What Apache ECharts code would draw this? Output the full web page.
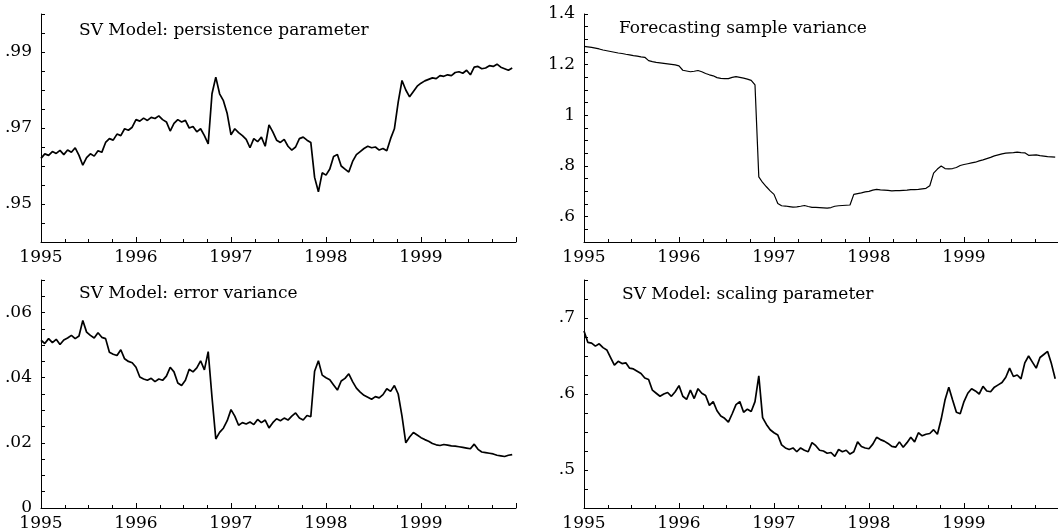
<!DOCTYPE html>
<html>
<head>
<meta charset="utf-8">
<script src="https://cdn.jsdelivr.net/npm/echarts@6.0.0/dist/echarts.min.js"></script>
<style>
  html, body { margin: 0; padding: 0; background: #fff; }
  #chart { width: 1058px; height: 531px; }
</style>
</head>
<body>
<div id="chart"></div>
<script>
// samples every 0.04 year, starting 1995.00
const startYear = 1995
const stepYear = 0.04

const persistence = [
  0.9620, 0.9632, 0.9628, 0.9638, 0.9633, 0.9641, 0.9630, 0.9642, 0.9636, 0.9648,
  0.9628, 0.9602, 0.9622, 0.9632, 0.9626, 0.9640, 0.9636, 0.9662, 0.9672, 0.9668,
  0.9684, 0.9680, 0.9698, 0.9694, 0.9702, 0.9722, 0.9718, 0.9726, 0.9720, 0.9728,
  0.9725, 0.9732, 0.9722, 0.9716, 0.9692, 0.9712, 0.9722, 0.9716, 0.9720, 0.9700,
  0.9704, 0.9690, 0.9698, 0.9680, 0.9658, 0.9790, 0.9834, 0.9790, 0.9772, 0.9738,
  0.9682, 0.9698, 0.9688, 0.9680, 0.9670, 0.9648, 0.9672, 0.9664, 0.9676, 0.9652,
  0.9708, 0.9690, 0.9668, 0.9662, 0.9670, 0.9652, 0.9642, 0.9650, 0.9672, 0.9676,
  0.9668, 0.9662, 0.9570, 0.9532, 0.9582, 0.9576, 0.9592, 0.9625, 0.9630, 0.9600,
  0.9592, 0.9584, 0.9612, 0.9630, 0.9638, 0.9646, 0.9652, 0.9648, 0.9650, 0.9642,
  0.9646, 0.9640, 0.9672, 0.9698, 0.9768, 0.9825, 0.9800, 0.9782, 0.9796, 0.9810,
  0.9818, 0.9824, 0.9828, 0.9832, 0.9830, 0.9838, 0.9836, 0.9840, 0.9838, 0.9846,
  0.9848, 0.9844, 0.9852, 0.9840, 0.9860, 0.9862, 0.9856, 0.9858, 0.9864, 0.9862,
  0.9868, 0.9860, 0.9856, 0.9852, 0.9858
]

const forecastVar = [
  1.272, 1.270, 1.268, 1.265, 1.262, 1.258, 1.255, 1.252, 1.249, 1.246,
  1.244, 1.241, 1.239, 1.236, 1.234, 1.231, 1.229, 1.216, 1.212, 1.209,
  1.207, 1.205, 1.203, 1.201, 1.199, 1.195, 1.178, 1.175, 1.172, 1.174,
  1.177, 1.172, 1.165, 1.160, 1.156, 1.149, 1.146, 1.145, 1.145, 1.150,
  1.153, 1.150, 1.147, 1.143, 1.138, 1.120, 0.757, 0.735, 0.718, 0.702,
  0.688, 0.652, 0.643, 0.642, 0.640, 0.638, 0.639, 0.641, 0.644, 0.640,
  0.637, 0.637, 0.636, 0.635, 0.634, 0.636, 0.641, 0.643, 0.644, 0.645,
  0.646, 0.688, 0.691, 0.694, 0.698, 0.700, 0.705, 0.708, 0.706, 0.705,
  0.704, 0.702, 0.703, 0.703, 0.704, 0.705, 0.707, 0.707, 0.708, 0.710,
  0.712, 0.722, 0.772, 0.788, 0.800, 0.790, 0.789, 0.790, 0.794, 0.802,
  0.806, 0.809, 0.812, 0.815, 0.820, 0.824, 0.829, 0.834, 0.840, 0.844,
  0.848, 0.851, 0.852, 0.853, 0.855, 0.853, 0.852, 0.842, 0.843, 0.844,
  0.841, 0.839, 0.837, 0.836, 0.835
]

const errorVar = [
  0.0515, 0.0505, 0.0520, 0.0508, 0.0518, 0.0502, 0.0516, 0.0522, 0.0530, 0.0520,
  0.0528, 0.0576, 0.0540, 0.0530, 0.0522, 0.0538, 0.0524, 0.0520, 0.0478, 0.0472,
  0.0468, 0.0486, 0.0458, 0.0450, 0.0446, 0.0432, 0.0402, 0.0396, 0.0392, 0.0398,
  0.0388, 0.0396, 0.0392, 0.0405, 0.0432, 0.0418, 0.0384, 0.0376, 0.0392, 0.0426,
  0.0418, 0.0430, 0.0452, 0.0424, 0.0480, 0.0340, 0.0212, 0.0232, 0.0245, 0.0268,
  0.0302, 0.0282, 0.0254, 0.0262, 0.0258, 0.0264, 0.0256, 0.0272, 0.0262, 0.0270,
  0.0246, 0.0262, 0.0274, 0.0268, 0.0276, 0.0270, 0.0282, 0.0292, 0.0276, 0.0270,
  0.0284, 0.0280, 0.0420, 0.0452, 0.0408, 0.0400, 0.0394, 0.0378, 0.0362, 0.0390,
  0.0398, 0.0412, 0.0388, 0.0368, 0.0356, 0.0346, 0.0340, 0.0334, 0.0342, 0.0338,
  0.0348, 0.0366, 0.0358, 0.0376, 0.0350, 0.0282, 0.0200, 0.0218, 0.0232, 0.0224,
  0.0216, 0.0210, 0.0205, 0.0198, 0.0194, 0.0192, 0.0195, 0.0193, 0.0191, 0.0190,
  0.0188, 0.0186, 0.0184, 0.0182, 0.0196, 0.0180, 0.0172, 0.0170, 0.0168, 0.0166,
  0.0162, 0.0160, 0.0158, 0.0162, 0.0164
]

const scaling = [
  0.683, 0.668, 0.667, 0.663, 0.666, 0.661, 0.658, 0.648, 0.638, 0.643,
  0.640, 0.641, 0.634, 0.633, 0.630, 0.627, 0.621, 0.619, 0.605, 0.601,
  0.597, 0.600, 0.602, 0.597, 0.603, 0.611, 0.597, 0.593, 0.605, 0.594,
  0.607, 0.601, 0.598, 0.585, 0.590, 0.578, 0.571, 0.568, 0.563, 0.574,
  0.586, 0.590, 0.576, 0.580, 0.577, 0.590, 0.624, 0.569, 0.560, 0.553,
  0.549, 0.546, 0.533, 0.529, 0.527, 0.529, 0.524, 0.529, 0.526, 0.524,
  0.536, 0.532, 0.526, 0.525, 0.522, 0.523, 0.518, 0.527, 0.524, 0.526,
  0.521, 0.524, 0.537, 0.531, 0.529, 0.528, 0.534, 0.543, 0.540, 0.538,
  0.535, 0.531, 0.530, 0.537, 0.530, 0.536, 0.543, 0.537, 0.549, 0.545,
  0.547, 0.548, 0.553, 0.547, 0.567, 0.592, 0.609, 0.592, 0.576, 0.574,
  0.590, 0.601, 0.607, 0.604, 0.600, 0.610, 0.604, 0.603, 0.609, 0.612,
  0.615, 0.622, 0.634, 0.623, 0.625, 0.620, 0.641, 0.650, 0.642, 0.634,
  0.648, 0.652, 0.656, 0.640, 0.620
]

const yearLabels = [1995, 1996, 1997, 1998, 1999]
const persistenceTicks = [0.95, 0.97, 0.99]
const forecastTicks = [0.6, 0.8, 1, 1.2, 1.4]
const errorTicks = [0, 0.02, 0.04, 0.06]
const scalingTicks = [0.5, 0.6, 0.7]

const titles = [
  'SV Model: persistence parameter',
  'Forecasting sample variance',
  'SV Model: error variance',
  'SV Model: scaling parameter'
]

const fontFamily = '"DejaVu Serif", "Liberation Serif", serif'
const fontSize = 17

function toPairs(arr) {
  return arr.map((v, i) => [startYear + i * stepYear, v])
}

function tickText(v, list) {
  const hit = list.find((t) => Math.abs(t - v) < 1e-6)
  if (hit === undefined) return ''
  return String(hit).replace(/^0\./, '.')
}

function xAxisFor(gridIndex) {
  return {
    type: 'value',
    gridIndex: gridIndex,
    min: 1995,
    max: 2000,
    interval: 1,
    axisLine: { lineStyle: { color: '#000', width: 1 } },
    axisTick: { inside: true, length: 5, lineStyle: { color: '#000' } },
    minorTick: { show: true, splitNumber: 4, length: 3, lineStyle: { color: '#000' } },
    splitLine: { show: false },
    axisLabel: {
      margin: 7,
      color: '#000',
      fontFamily: fontFamily,
      fontSize: fontSize,
      formatter: (v) => (yearLabels.indexOf(Math.round(v)) >= 0 && Math.abs(v - Math.round(v)) < 1e-6 ? String(Math.round(v)) : '')
    }
  }
}

function yAxisFor(gridIndex, min, max, step, ticks) {
  return {
    type: 'value',
    gridIndex: gridIndex,
    min: min,
    max: max,
    interval: step,
    axisLine: { show: true, lineStyle: { color: '#000', width: 1 } },
    axisTick: { show: true, inside: true, length: 4, lineStyle: { color: '#000' } },
    splitLine: { show: false },
    axisLabel: {
      margin: 9,
      color: '#000',
      fontFamily: fontFamily,
      fontSize: fontSize,
      showMinLabel: true,
      showMaxLabel: true,
      formatter: (v) => tickText(v, ticks)
    }
  }
}

const chart = echarts.init(document.getElementById('chart'), null, { renderer: 'canvas' })

const titlePos = [
  { left: 79, top: 22 },
  { left: 619, top: 20 },
  { left: 79, top: 285 },
  { left: 622, top: 286 }
]

const option = {
  backgroundColor: '#fff',
  animation: false,
  title: titles.map((t, i) => ({
    text: t,
    left: titlePos[i].left,
    top: titlePos[i].top,
    padding: 0,
    textStyle: { fontFamily: fontFamily, fontSize: fontSize, fontWeight: 'normal', color: '#000' }
  })),
  grid: [
    { left: 41, top: 14, width: 475, height: 228, outerBoundsMode: 'none' },
    { left: 584, top: 14, width: 475, height: 228, outerBoundsMode: 'none' },
    { left: 41, top: 280, width: 475, height: 228, outerBoundsMode: 'none' },
    { left: 584, top: 280, width: 475, height: 228, outerBoundsMode: 'none' }
  ],
  xAxis: [xAxisFor(0), xAxisFor(1), xAxisFor(2), xAxisFor(3)],
  yAxis: [
    yAxisFor(0, 0.94, 1.0, 0.005, persistenceTicks),
    yAxisFor(1, 0.5, 1.4, 0.05, forecastTicks),
    yAxisFor(2, 0, 0.07, 0.005, errorTicks),
    yAxisFor(3, 0.45, 0.75, 0.025, scalingTicks)
  ],
  series: [persistence, forecastVar, errorVar, scaling].map((arr, i) => ({
    type: 'line',
    xAxisIndex: i,
    yAxisIndex: i,
    data: toPairs(arr),
    showSymbol: false,
    smooth: false,
    lineStyle: { color: '#000', width: i === 1 ? 1.2 : 1.7 },
    emphasis: { disabled: true }
  }))
}

chart.setOption(option)
</script>
</body>
</html>
